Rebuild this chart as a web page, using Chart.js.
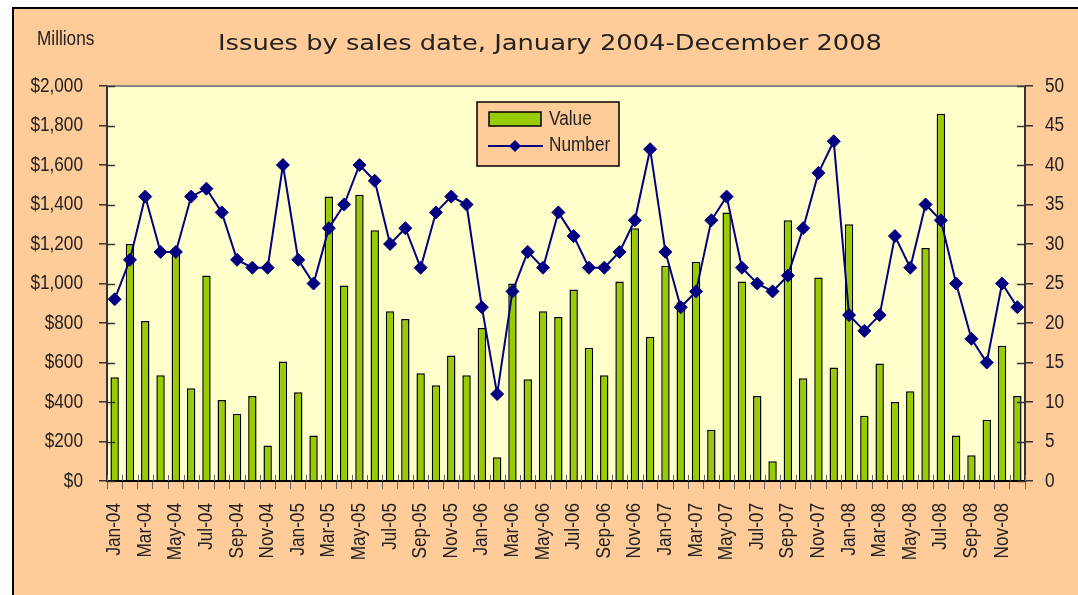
<!DOCTYPE html>
<html>
<head>
<meta charset="utf-8">
<script src="https://cdn.jsdelivr.net/npm/chart.js@4/dist/chart.umd.min.js"></script>
<style>
  html, body { margin: 0; padding: 0; background: #fff; overflow: hidden; }
  #frame { position: absolute; left: 12px; top: 7px; width: 1080px; height: 600px;
           background: #FFCC99; border: 2px solid #000; }
  #chart { position: absolute; left: 0; top: 0; }
</style>
</head>
<body>
<div id="frame"></div>
<canvas id="chart" width="1078" height="595"></canvas>
<script>
"use strict";

// month labels, Jan-04 .. Dec-08
var months = [
  'Jan-04','Feb-04','Mar-04','Apr-04','May-04','Jun-04','Jul-04','Aug-04','Sep-04','Oct-04','Nov-04','Dec-04',
  'Jan-05','Feb-05','Mar-05','Apr-05','May-05','Jun-05','Jul-05','Aug-05','Sep-05','Oct-05','Nov-05','Dec-05',
  'Jan-06','Feb-06','Mar-06','Apr-06','May-06','Jun-06','Jul-06','Aug-06','Sep-06','Oct-06','Nov-06','Dec-06',
  'Jan-07','Feb-07','Mar-07','Apr-07','May-07','Jun-07','Jul-07','Aug-07','Sep-07','Oct-07','Nov-07','Dec-07',
  'Jan-08','Feb-08','Mar-08','Apr-08','May-08','Jun-08','Jul-08','Aug-08','Sep-08','Oct-08','Nov-08','Dec-08'
];

// value of issues, $ millions
var issueValue = [
  525, 1200, 810, 535, 1160, 470, 1040, 410, 340, 430, 180, 605,
  450, 230, 1440, 990, 1450, 1270, 860, 820, 545, 485, 635, 535,
  775, 120, 1000, 515, 860, 830, 970, 675, 535, 1010, 1280, 730,
  1090, 905, 1110, 260, 1360, 1010, 430, 100, 1320, 520, 1030, 575,
  1300, 330, 595, 400, 455, 1180, 1860, 230, 130, 310, 685, 430
];

// number of issues
var issueCount = [
  23, 28, 36, 29, 29, 36, 37, 34, 28, 27, 27, 40,
  28, 25, 32, 35, 40, 38, 30, 32, 27, 34, 36, 35,
  22, 11, 24, 29, 27, 34, 31, 27, 27, 29, 33, 42,
  29, 22, 24, 33, 36, 27, 25, 24, 26, 32, 39, 43,
  21, 19, 21, 31, 27, 35, 33, 25, 18, 15, 25, 22
];

var chartTitle = 'Issues by sales date, January 2004-December 2008';
var unitLabel = 'Millions';

var FONT = '"Liberation Sans", Arial, sans-serif';
var NARROW = 0.86; // squeeze to look like Arial Narrow
var GREEN = '#99CC00', NAVY = '#000080', PLOT_BG = '#FFFFCC', PEACH = '#FFCC99';
var TEXT = '#222';

// draw narrow text, optionally rotated
function narrowText(ctx, text, x, y, align, rot) {
  ctx.save();
  ctx.translate(x, y);
  if (rot) ctx.rotate(rot);
  ctx.scale(NARROW, 1);
  ctx.font = '20px ' + FONT;
  ctx.fillStyle = TEXT;
  ctx.textAlign = align;
  ctx.textBaseline = 'middle';
  ctx.fillText(text, 0, 0);
  ctx.restore();
}

// background, titles, tick labels, inner tick halves and the boxed legend
var decor = {
  id: 'decor',
  beforeDraw: function(chart) {
    var ctx = chart.ctx, a = chart.chartArea;
    ctx.save();
    ctx.fillStyle = PLOT_BG;
    ctx.fillRect(a.left, a.top, a.right - a.left, a.bottom - a.top);
    ctx.restore();
  },
  afterDraw: function(chart) {
    var ctx = chart.ctx, a = chart.chartArea;
    var ys = chart.scales.y, ys1 = chart.scales.y1, xs = chart.scales.x;
    ctx.save();

    // top border of the plot
    ctx.strokeStyle = '#888';
    ctx.lineWidth = 2;
    ctx.beginPath();
    ctx.moveTo(a.left, a.top);
    ctx.lineTo(a.right, a.top);
    ctx.stroke();

    // inner half of the crossing tick marks
    ctx.lineWidth = 1.5;
    ctx.strokeStyle = '#333';
    [ys, ys1].forEach(function(s) {
      var dir = s === ys ? 1 : -1;
      var x0 = s === ys ? a.left : a.right;
      s.ticks.forEach(function(t, i) {
        var py = Math.round(s.getPixelForTick(i)) + 0.5;
        ctx.beginPath();
        ctx.moveTo(x0, py);
        ctx.lineTo(x0 + dir * 8, py);
        ctx.stroke();
      });
    });
    ctx.strokeStyle = '#666';
    ctx.lineWidth = 1;
    for (var i = 0; i <= months.length; i++) {
      var px = Math.round(xs.getPixelForValue(i - 0.5)) + 0.5;
      ctx.beginPath();
      ctx.moveTo(px, a.bottom);
      ctx.lineTo(px, a.bottom - 6);
      ctx.stroke();
    }

    // tick labels
    ys.ticks.forEach(function(t, i) {
      narrowText(ctx, '$' + t.value.toLocaleString('en-US'), a.left - 24, ys.getPixelForTick(i), 'right');
    });
    ys1.ticks.forEach(function(t, i) {
      narrowText(ctx, String(t.value), a.right + 20, ys1.getPixelForTick(i), 'left');
    });
    months.forEach(function(m, i) {
      if (i % 2) return;
      narrowText(ctx, m, xs.getPixelForValue(i), a.bottom + 22, 'right', -Math.PI / 2);
    });

    // title, stretched to the reference width
    ctx.fillStyle = TEXT;
    ctx.textBaseline = 'middle';
    ctx.font = '21px "DejaVu Sans", Verdana, sans-serif';
    var w = ctx.measureText(chartTitle).width;
    ctx.save();
    ctx.translate(218, 45);
    ctx.scale(664 / w, 1);
    ctx.textAlign = 'left';
    ctx.fillText(chartTitle, 0, 0);
    ctx.restore();

    narrowText(ctx, unitLabel, 37, 39, 'left');

    // legend box
    var bx = 477, by = 102, bw = 142, bh = 64;
    ctx.fillStyle = PEACH;
    ctx.fillRect(bx, by, bw, bh);
    ctx.strokeStyle = '#000';
    ctx.lineWidth = 1.5;
    ctx.strokeRect(bx, by, bw, bh);

    ctx.fillStyle = GREEN;
    ctx.fillRect(489, 112, 52, 14);
    ctx.strokeRect(489, 112, 52, 14);

    ctx.strokeStyle = NAVY;
    ctx.lineWidth = 2;
    ctx.beginPath();
    ctx.moveTo(488, 146);
    ctx.lineTo(543, 146);
    ctx.stroke();
    ctx.fillStyle = NAVY;
    ctx.beginPath();
    ctx.moveTo(515, 140);
    ctx.lineTo(521, 146);
    ctx.lineTo(515, 152);
    ctx.lineTo(509, 146);
    ctx.closePath();
    ctx.fill();

    narrowText(ctx, chart.data.datasets[1].label, 549, 119, 'left');
    narrowText(ctx, chart.data.datasets[0].label, 549, 145, 'left');

    ctx.restore();
  }
};

// Chart.js keeps its own labels for layout but they are hidden; the plugin draws them narrow
var hiddenTicks = { color: 'rgba(0,0,0,0)', font: { family: FONT, size: 17 } };

new Chart(document.getElementById('chart').getContext('2d'), {
  type: 'bar',
  data: {
    labels: months,
    datasets: [
      {
        type: 'line',
        label: 'Number',
        data: issueCount,
        yAxisID: 'y1',
        borderColor: NAVY,
        backgroundColor: NAVY,
        borderWidth: 2,
        pointStyle: 'rectRot',
        pointRadius: 6.5,
        pointBackgroundColor: NAVY,
        pointBorderColor: NAVY,
        pointBorderWidth: 1,
        tension: 0,
        order: 0
      },
      {
        type: 'bar',
        label: 'Value',
        data: issueValue,
        yAxisID: 'y',
        backgroundColor: GREEN,
        borderColor: '#000',
        borderWidth: 1.5,
        categoryPercentage: 1,
        barPercentage: 0.55,
        order: 1
      }
    ]
  },
  options: {
    responsive: false,
    animation: false,
    layout: { padding: { top: 86, left: 0, right: 0, bottom: 0 } },
    plugins: {
      legend: { display: false },
      title: { display: false },
      tooltip: { enabled: false }
    },
    scales: {
      x: {
        offset: true,
        grid: { offset: true, drawOnChartArea: false, drawTicks: true, tickLength: 8, color: '#666' },
        border: { color: '#000', width: 2 },
        ticks: Object.assign({ autoSkip: false, minRotation: 90, maxRotation: 90 }, hiddenTicks),
        afterFit: function(s) { s.height = 114; }
      },
      y: {
        position: 'left',
        min: 0,
        max: 2000,
        grid: { drawOnChartArea: false, drawTicks: true, tickLength: 8, color: '#333', lineWidth: 1.5 },
        border: { color: '#333', width: 2 },
        ticks: Object.assign({ stepSize: 200 }, hiddenTicks),
        afterFit: function(s) { s.width = 107; }
      },
      y1: {
        position: 'right',
        min: 0,
        max: 50,
        grid: { drawOnChartArea: false, drawTicks: true, tickLength: 8, color: '#333', lineWidth: 1.5 },
        border: { color: '#333', width: 2 },
        ticks: Object.assign({ stepSize: 5 }, hiddenTicks),
        afterFit: function(s) { s.width = 53; }
      }
    }
  },
  plugins: [decor]
});
</script>
</body>
</html>
